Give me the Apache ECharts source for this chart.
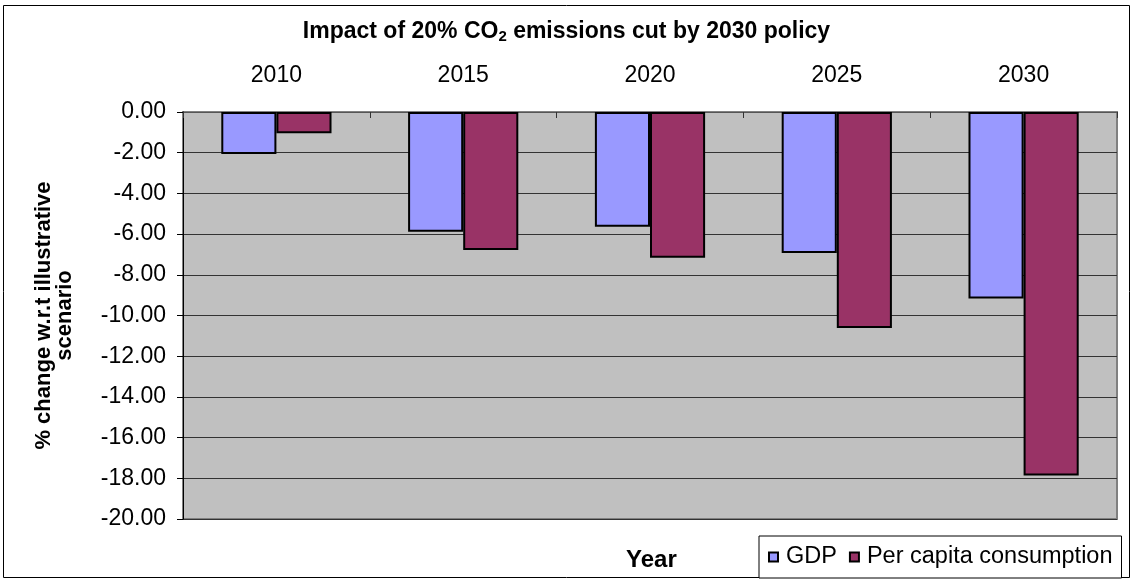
<!DOCTYPE html>
<html lang="en">
<head>
    <meta charset="UTF-8">
    <script src="https://cdn.jsdelivr.net/npm/echarts@6/dist/echarts.min.js"></script>
    <title>Impact of 20% CO2 emissions cut</title>
    <style type="text/css">
    body { margin: 0; }
    .chart {
        width: 1133px;
        height: 579px;
    }
    </style>
</head>
<body>
    <div id="chart" class="chart"></div>
<script type="text/javascript">
var years = ['2010', '2015', '2020', '2025', '2030']
var gdp = [-2.07, -5.88, -5.64, -6.93, -9.17]
var perCapita = [-1.05, -6.78, -7.16, -10.61, -17.86]

var myChart = echarts.init(document.getElementById('chart'))

var font = 'Liberation Sans, Arial, sans-serif'

var option = {
    animation: false,
    backgroundColor: '#fff',
    textStyle: { fontFamily: font },
    title: [
        {
            text: 'Impact of 20% CO{sub|2} emissions cut by 2030 policy',
            left: 'center',
            top: 14,
            textStyle: {
                fontSize: 23,
                fontWeight: 'bold',
                color: '#000',
                rich: {
                    sub: { fontSize: 15, fontWeight: 'bold', padding: [10, 0, 0, 0] }
                }
            }
        },
        {
            text: 'Year',
            left: 621,
            top: 543,
            textStyle: { fontSize: 24, fontWeight: 'bold', color: '#000' }
        }
    ],
    legend: {
        left: 759,
        top: 536,
        padding: [9, 9, 9, 9],
        itemGap: 12,
        itemWidth: 9,
        itemHeight: 9,
        icon: 'rect',
        borderColor: '#000',
        borderWidth: 1,
        backgroundColor: '#fff',
        textStyle: { fontSize: 23.5, color: '#000', padding: [0, 0, 0, 3] },
        data: ['GDP', 'Per capita consumption']
    },
    grid: {
        left: 183,
        top: 112,
        right: 16,
        bottom: 60,
        show: true,
        backgroundColor: '#C0C0C0',
        borderColor: '#808080',
        borderWidth: 2
    },
    xAxis: {
        type: 'category',
        position: 'top',
        data: years,
        axisLine: { show: true, lineStyle: { color: '#555' } },
        axisTick: { show: true, inside: true, length: 6, lineStyle: { color: '#333' } },
        axisLabel: { fontSize: 23, color: '#000', margin: 25 }
    },
    yAxis: {
        type: 'value',
        min: -20,
        max: 0,
        interval: 2,
        name: '% change w.r.t illustrative\nscenario',
        nameLocation: 'middle',
        nameRotate: 90,
        nameGap: 108,
        nameTextStyle: { fontSize: 22, fontWeight: 'bold', color: '#000', lineHeight: 21 },
        axisLine: { show: true, lineStyle: { color: '#000' } },
        axisTick: { show: true, length: 6, lineStyle: { color: '#000' } },
        axisLabel: {
            fontSize: 23,
            color: '#000',
            margin: 17,
            formatter: function (v) { return v.toFixed(2) }
        },
        splitLine: { show: true, lineStyle: { color: '#333', width: 1 } }
    },
    series: [
        {
            name: 'GDP',
            type: 'bar',
            data: gdp,
            barGap: '0%',
            barCategoryGap: '41%',
            itemStyle: { color: '#9999FF', borderColor: '#000', borderWidth: 2 }
        },
        {
            name: 'Per capita consumption',
            type: 'bar',
            data: perCapita,
            itemStyle: { color: '#993366', borderColor: '#000', borderWidth: 2 }
        }
    ],
    graphic: [
        {
            type: 'rect',
            shape: { x: 3.5, y: 5.5, width: 1126, height: 572 },
            style: { fill: 'none', stroke: '#000', lineWidth: 1 },
            silent: true,
            z: -1
        }
    ]
}

myChart.setOption(option)
</script>
</body>
</html>
